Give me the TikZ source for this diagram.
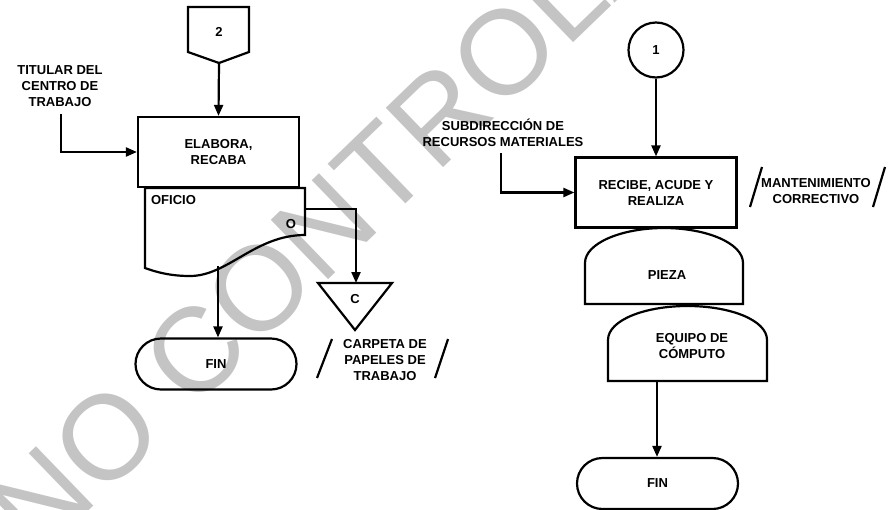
\documentclass[tikz,border=0pt]{standalone}
\usepackage{fontspec}
\setmainfont{Liberation Sans}
\usetikzlibrary{arrows.meta,shapes.misc}

\definecolor{markgray}{RGB}{196,196,196}

\begin{document}
\begin{tikzpicture}[x=1pt, y=-1pt, line width=2.2pt,
        txt/.style={font=\fontsize{13}{16}\selectfont\bfseries,
            align=center, inner sep=0pt},
        proc/.style={draw, txt, minimum width=161pt, minimum height=70pt},
        term/.style={draw, txt, rounded rectangle,
            minimum width=161pt, minimum height=51pt},
        conn/.style={draw, txt, circle, minimum size=55pt},
        flow/.style={-{Triangle[length=11pt, width=9pt]}}]

        \useasboundingbox (0,0) rectangle (888,509);

        % Watermark behind the chart.
        \begin{scope}
            \clip (0,0) rectangle (888,509);
            \node[rotate=44, anchor=base west, inner sep=0pt, text=markgray,
                font=\fontsize{120}{120}\selectfont] (marca) at (38,560)
                {NO CONTROLADA};
        \end{scope}

        % Left column: connector 2 down to the end.
        \draw (188,7) -- (249,7) -- (249,52) -- (219,63) -- (188,52) -- cycle;
        \node[txt] (pag2) at (219,32) {2};
        \coordinate (pag2tip) at (219,63);

        \node[proc] (elabora) at (218.5,152) {ELABORA,\\RECABA};
        \node[txt] (titular) at (60,86) {TITULAR DEL\\CENTRO DE\\TRABAJO};
        \coordinate (titularbot) at (61,114);

        % Document shape with its wavy bottom.
        \draw (145,188) -- (305,188) -- (305,235)
            .. controls (255,235) and (228,276) .. (190,276)
            .. controls (170,276) and (156,272) .. (145,268) -- cycle;
        \node[txt, anchor=west] (oficio) at (150,200) {OFICIO};
        \node[txt] (copia) at (291,224) {O};
        \coordinate (ofibot) at (218,266);
        \coordinate (ofiright) at (305,209);

        % Merge triangle for the file.
        \draw (318,283) -- (392,283) -- (355,330) -- cycle;
        \node[txt] (archivo) at (355,299) {C};
        \coordinate (mergetop) at (356,283);
        \node[txt] (carpeta) at (385,360) {CARPETA DE\\PAPELES DE\\TRABAJO};
        \draw (317,378) -- (332,339);
        \draw (435,378) -- (448,339);

        \node[term] (fin1) at (216,364) {FIN};

        \draw[flow] (pag2tip) -- (elabora.north);
        \draw[flow] (titularbot) |- (elabora.west);
        \draw[flow] (ofiright) -| (mergetop);
        \draw[flow] (ofibot) -- (ofibot |- fin1.north);

        % Right column: connector 1 down to the end.
        \node[conn] (con1) at (656,50) {1};
        \node[proc] (recibe) at (656,192.5) {RECIBE, ACUDE Y\\REALIZA};
        \node[txt] (subdir) at (503,133) {SUBDIRECCI\'ON DE\\RECURSOS MATERIALES};
        \coordinate (subdirbot) at (501,153);
        \node[txt] (manto) at (816,191.5) {MANTENIMIENTO\\CORRECTIVO};
        \draw (750,207) -- (762,167);
        \draw (873,207) -- (885,167);

        % Arched shapes for the part and the equipment.
        \draw (585,304) -- (585,263)
            .. controls (585,243) and (622,228) .. (664,228)
            .. controls (706,228) and (743,243) .. (743,263) -- (743,304) -- cycle;
        \node[txt] (pieza) at (667,275) {PIEZA};
        \draw (608,381) -- (608,340)
            .. controls (608,320) and (645,306) .. (687.5,306)
            .. controls (730,306) and (767,320) .. (767,340) -- (767,381) -- cycle;
        \node[txt] (equipo) at (692,346) {EQUIPO DE\\C\'OMPUTO};
        \coordinate (equipobot) at (657,381);

        \node[term] (fin2) at (657.5,483.5) {FIN};

        \draw[flow] (con1.south) -- (recibe.north);
        \draw[flow] (subdirbot) |- (recibe.west);
        \draw[flow] (equipobot) -- (equipobot |- fin2.north);
    \end{tikzpicture}
\end{document}
